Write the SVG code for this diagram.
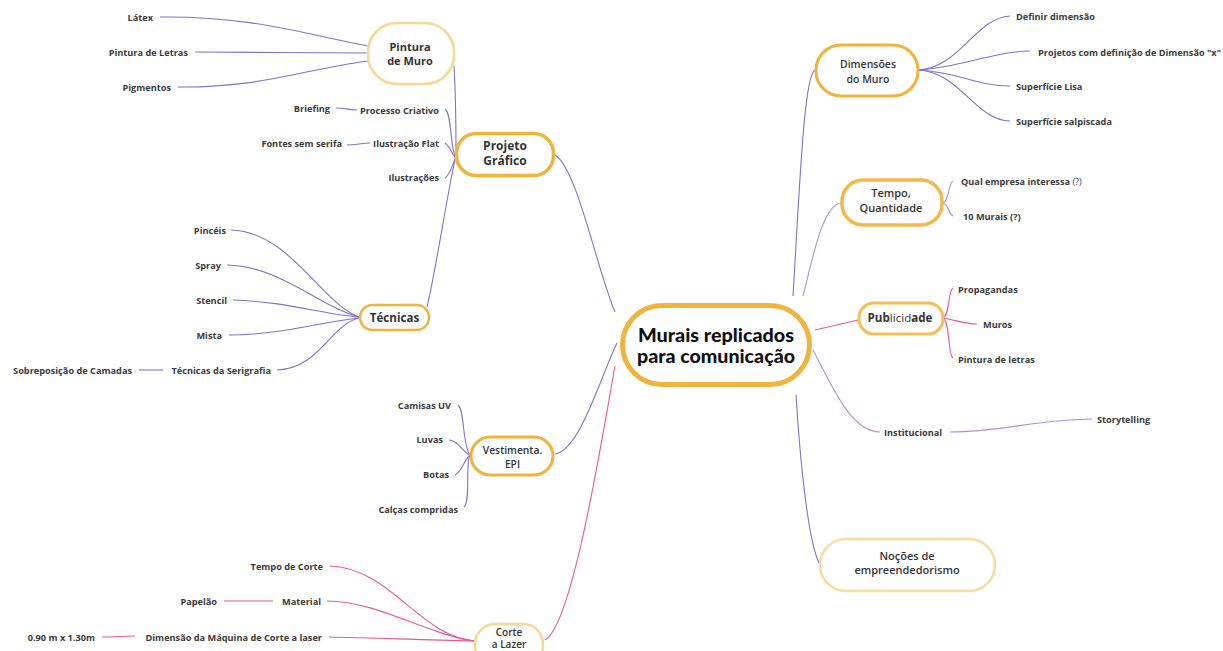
<svg xmlns="http://www.w3.org/2000/svg" width="1223" height="651" viewBox="0 0 1223 651">
<style>
.leaf{font-family:"Open Sans","Noto Sans",sans-serif;font-weight:700;font-size:9.2px;fill:#3a3a3a}
.end{text-anchor:end}
.nt{font-family:"Open Sans","Noto Sans",sans-serif;font-weight:600;fill:#333;text-anchor:middle}
.nb{font-weight:700}
.box{fill:#fff}
.strong{stroke:#EEB43C}
.pale{stroke:#F6D894}
.cp{fill:none;stroke:#8171C7;stroke-width:1.1}
.cl{fill:none;stroke:#A88FD2;stroke-width:1.1}
.ck{fill:none;stroke:#E4589C;stroke-width:1.1}
.cm{fill:none;stroke:#B98AD0;stroke-width:1.1}
.title{font-family:Lato,"Noto Sans",sans-serif;font-weight:900;font-size:19px;fill:#111;text-anchor:middle}
</style>
<rect width="1223" height="651" fill="#fff"/>
<g id="connectors">
<path class="cp" d="M160,17 C250,16 300,33 368,46"/>
<path class="cp" d="M195,52 C260,52 300,53 368,53"/>
<path class="cp" d="M178,87 C260,88 300,70 368,61"/>
<path class="cp" d="M454,66 C456,100 456,130 456,155"/>
<path class="cp" d="M427,307 C436,270 446,200 456,155"/>
<path class="cp" d="M445,109 C452,113 450,150 456,158"/>
<path class="cp" d="M445,143 C450,146 452,155 456,158"/>
<path class="cp" d="M445,178 C450,175 452,165 456,158"/>
<path class="cp" d="M336,108 C345,108 350,110 357,110"/>
<path class="cp" d="M347,145 C356,145 362,143 370,143"/>
<path class="cp" d="M555,155 C577,168 597,270 615,312"/>
<path class="cp" d="M231,230 C290,232 320,302 359,317"/>
<path class="cp" d="M227,265 C280,266 320,307 359,317"/>
<path class="cp" d="M233,300 C290,302 320,314 359,317"/>
<path class="cp" d="M229,335 C280,335 320,322 359,318"/>
<path class="cp" d="M277,370 C320,368 330,325 359,318"/>
<path class="cp" d="M139,370 L163,370"/>
<path class="cp" d="M458,405 C465,410 462,445 470,455"/>
<path class="cp" d="M449,440 C458,440 462,452 470,455"/>
<path class="cp" d="M455,475 C462,472 464,460 470,455"/>
<path class="cp" d="M464,507 C471,500 465,465 470,455"/>
<path class="cp" d="M555,454 C580,450 600,378 617,343"/>
<path class="ck" d="M330,566 C390,568 420,636 474,641"/>
<path class="ck" d="M327,601 C380,602 420,632 474,641"/>
<path class="ck" d="M224,601 L273,601"/>
<path class="ck" d="M329,637 C380,638 420,640 474,641"/>
<path class="ck" d="M102,637 C115,637 122,636 135,636"/>
<path class="ck" d="M545,640 C572,625 600,450 615,366"/>
<path class="cp" d="M793,296 C800,180 804,76 815,70"/>
<path class="cp" d="M918,70 C960,68 975,18 1010,16"/>
<path class="cp" d="M918,70 C960,68 990,52 1030,51"/>
<path class="cp" d="M918,70 C960,72 975,86 1010,86"/>
<path class="cp" d="M918,70 C960,72 975,120 1010,121"/>
<path class="cl" d="M803,296 C812,262 822,205 841,203"/>
<path class="cl" d="M943,203 C950,200 948,183 953,181"/>
<path class="cl" d="M943,203 C950,206 948,214 953,216"/>
<path class="ck" d="M815,330 L858,320"/>
<path class="ck" d="M943,318 C950,315 948,290 953,288"/>
<path class="ck" d="M943,318 C955,320 965,324 977,324"/>
<path class="ck" d="M943,318 C950,321 948,356 953,358"/>
<path class="cm" d="M813,350 C835,392 852,432 880,432"/>
<path class="cm" d="M950,432 C1000,432 1040,419 1092,419"/>
<path class="cp" d="M796,395 C800,460 808,540 819,563"/>
</g>
<g id="central">
<rect class="box strong" x="622.5" y="305.5" width="187" height="79" rx="39.5" stroke-width="5"/>
<text class="title" x="716" y="341.5" textLength="156" lengthAdjust="spacingAndGlyphs">Murais replicados</text>
<text class="title" x="716" y="363" textLength="158" lengthAdjust="spacingAndGlyphs">para comunicação</text>
</g>
<g id="pintura-muro">
<rect class="box pale" x="368" y="23" width="86" height="61" rx="29" stroke-width="2.5"/>
<text class="nt nb" x="410" y="51" font-size="11">Pintura</text>
<text class="nt nb" x="410" y="65" font-size="11">de Muro</text>
</g>
<g id="projeto-grafico">
<rect class="box strong" x="456.5" y="133.5" width="97" height="42" rx="20" stroke-width="3.5"/>
<text class="nt nb" x="505" y="149.5" font-size="12">Projeto</text>
<text class="nt nb" x="505" y="165" font-size="12">Gráfico</text>
</g>
<g id="tecnicas">
<rect class="box strong" x="360" y="305" width="69" height="25" rx="12.5" stroke-width="2.5"/>
<text class="nt nb" x="394.5" y="322" font-size="11.6">Técnicas</text>
</g>
<g id="vestimenta">
<rect class="box strong" x="471" y="437" width="82" height="38" rx="19" stroke-width="3"/>
<text class="nt" x="512.5" y="454" font-size="10.3">Vestimenta.</text>
<text class="nt" x="512.5" y="468" font-size="10.3">EPI</text>
</g>
<g id="corte-lazer">
<rect class="box pale" x="475" y="624" width="68" height="42" rx="20" stroke-width="2.5"/>
<text class="nt" x="509" y="636" font-size="10">Corte</text>
<text class="nt" x="509" y="648" font-size="10">a Lazer</text>
</g>
<g id="dimensoes">
<rect class="box strong" x="816" y="45" width="102" height="51" rx="25" stroke-width="3"/>
<text class="nt" x="868" y="68" font-size="10.5">Dimensões</text>
<text class="nt" x="868" y="82.5" font-size="10.5">do Muro</text>
</g>
<g id="tempo">
<rect class="box" x="842" y="180" width="100" height="45" rx="21" stroke="#F0B94A" stroke-width="3.5"/>
<text class="nt" x="891" y="197" font-size="11">Tempo,</text>
<text class="nt" x="891" y="211.5" font-size="11">Quantidade</text>
</g>
<g id="publicidade">
<rect class="box" x="859" y="303" width="84" height="31" rx="15" stroke="#F2BE55" stroke-width="3"/>
<text class="nt nb" x="900" y="321.5" font-size="11.6">Pub<tspan font-weight="400">licid</tspan>ade</text>
</g>
<g id="nocoes">
<rect class="box" x="820" y="539" width="175" height="52" rx="26" stroke="#F7DC9E" stroke-width="2.5"/>
<text class="nt" x="907" y="560" font-size="11">Noções de</text>
<text class="nt" x="907" y="573.5" font-size="11">empreendedorismo</text>
</g>
<g id="leaves-left">
<text class="leaf end" x="153" y="20.5">Látex</text>
<text class="leaf end" x="188" y="55.5">Pintura de Letras</text>
<text class="leaf end" x="171" y="91">Pigmentos</text>
<text class="leaf end" x="330" y="112">Briefing</text>
<text class="leaf end" x="439" y="113.5">Processo Criativo</text>
<text class="leaf end" x="342" y="147">Fontes sem serifa</text>
<text class="leaf end" x="439" y="147">Ilustração Flat</text>
<text class="leaf end" x="439" y="181">Ilustrações</text>
<text class="leaf end" x="226" y="234">Pincéis</text>
<text class="leaf end" x="221" y="269">Spray</text>
<text class="leaf end" x="227" y="303.5">Stencil</text>
<text class="leaf end" x="222" y="338.5">Mista</text>
<text class="leaf end" x="271" y="373.5">Técnicas da Serigrafia</text>
<text class="leaf end" x="132" y="373.5">Sobreposição de Camadas</text>
<text class="leaf end" x="451" y="408.5">Camisas UV</text>
<text class="leaf end" x="443" y="442.5">Luvas</text>
<text class="leaf end" x="449" y="477.5">Botas</text>
<text class="leaf end" x="458" y="512.5">Calças compridas</text>
<text class="leaf end" x="323" y="569.5">Tempo de Corte</text>
<text class="leaf end" x="321" y="604.5">Material</text>
<text class="leaf end" x="217" y="604.5">Papelão</text>
<text class="leaf end" x="322" y="640.5">Dimensão da Máquina de Corte a laser</text>
<text class="leaf end" x="95" y="640.5">0.90 m x 1.30m</text>
</g>
<g id="leaves-right">
<text class="leaf" x="1016" y="19.5">Definir dimensão</text>
<text class="leaf" x="1038" y="55.5">Projetos com definição de Dimensão "x"</text>
<text class="leaf" x="1016" y="89.5">Superfície Lisa</text>
<text class="leaf" x="1016" y="124.5">Superfície salpiscada</text>
<text class="leaf" x="961" y="184.5">Qual empresa interessa <tspan font-weight="400">(?)</tspan></text>
<text class="leaf" x="963" y="219.5">10 Murais (?)</text>
<text class="leaf" x="958" y="292.5">Propagandas</text>
<text class="leaf" x="983" y="327.5">Muros</text>
<text class="leaf" x="958" y="362.5">Pintura de letras</text>
<text class="leaf" x="884" y="435.5">Institucional</text>
<text class="leaf" x="1097" y="422.5">Storytelling</text>
</g>
</svg>
